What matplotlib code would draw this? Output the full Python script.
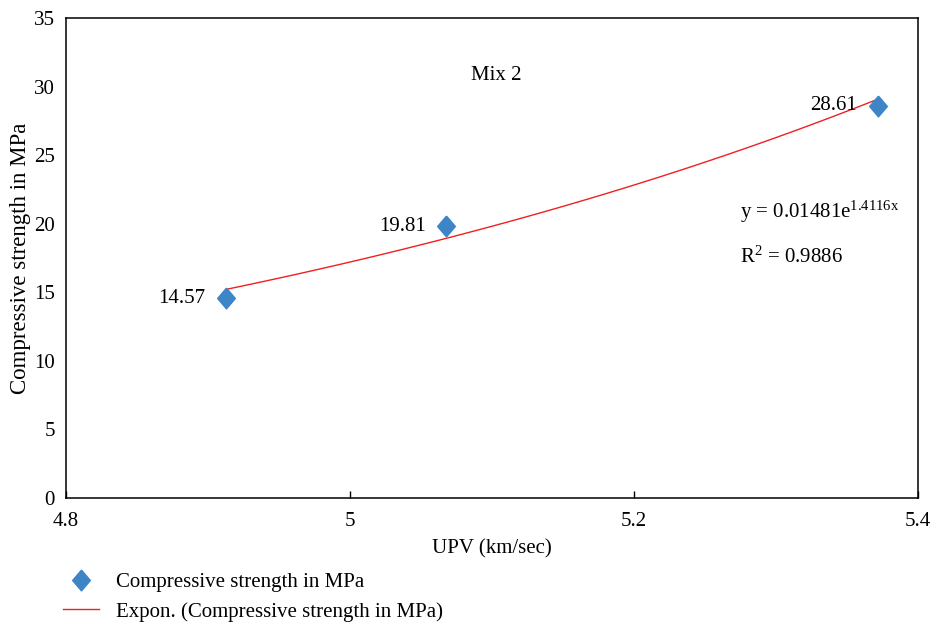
import numpy as np
import matplotlib
matplotlib.use("Agg")
from matplotlib import pyplot as plt

plt.rcParams['font.family'] = ['Liberation Serif', 'DejaVu Serif']
plt.rcParams['mathtext.fontset'] = 'custom'
plt.rcParams['mathtext.rm'] = 'Liberation Serif'
plt.rcParams['mathtext.it'] = 'Liberation Serif'

# data
upv = [4.913, 5.068, 5.372]
strength = [14.57, 19.81, 28.61]
point_labels = ["14.57", "19.81", "28.61"]

# exponential trendline coefficients (as printed on the chart)
fit_a = 0.01481
fit_b = 1.4116
r_squared = 0.9886

x_ticks = [4.8, 5.0, 5.2, 5.4]
x_tick_labels = ["4.8", "5", "5.2", "5.4"]
y_ticks = [0, 5, 10, 15, 20, 25, 30, 35]

fs = 15

fig = plt.figure(figsize=(9.33, 6.24), dpi=100)
ax = fig.add_axes([0.0707, 0.2019, 0.913, 0.769])

# trendline
xs = np.linspace(min(upv), max(upv), 60)
trend, = ax.plot(xs, fit_a * np.exp(fit_b * xs), color="#f02020", lw=1.0,
                 label="Expon. (Compressive strength in MPa)")

# slightly tall diamond, like the original
diamond = [(0, 1), (0.85, 0), (0, -1), (-0.85, 0), (0, 1)]
pts, = ax.plot(upv, strength, linestyle="none", marker=diamond, markersize=15,
               color="#3d85c6", label="Compressive strength in MPa", zorder=3)

for x, y, t in zip(upv, strength, point_labels):
    ax.annotate(t, (x, y), xytext=(-15, 0), textcoords="offset points",
                ha="right", va="center", fontsize=fs)

ax.text(5.103, 30.8, "Mix 2", fontsize=fs, ha="center", va="center")
ax.text(5.275, 20.9, r"y = 0.01481e$^{1.4116x}$", fontsize=fs, va="center")
ax.text(5.275, 17.6, r"R$^{2}$ = %.4f" % r_squared, fontsize=fs, va="center")

ax.set_xlim(4.8, 5.4)
ax.set_ylim(0, 35)
ax.set_xticks(x_ticks)
ax.set_xticklabels(x_tick_labels)
ax.set_yticks(y_ticks)
ax.tick_params(axis="x", direction="in", length=5, width=1, labelsize=fs, pad=10)
ax.tick_params(axis="y", length=0, labelsize=fs, pad=8)
for s in ax.spines.values():
    s.set_linewidth(1.1)
    s.set_color("black")

ax.set_xlabel("UPV (km/sec)", fontsize=fs, labelpad=6)
ax.set_ylabel("Compressive strength in MPa", fontsize=16.5, labelpad=2)

fig.legend(handles=[pts, trend], loc="upper left", bbox_to_anchor=(0.047, 0.112),
           frameon=False, fontsize=fs, handlelength=1.75, labelspacing=0.45,
           handletextpad=0.8)

fig.savefig("out.png", dpi=100)
